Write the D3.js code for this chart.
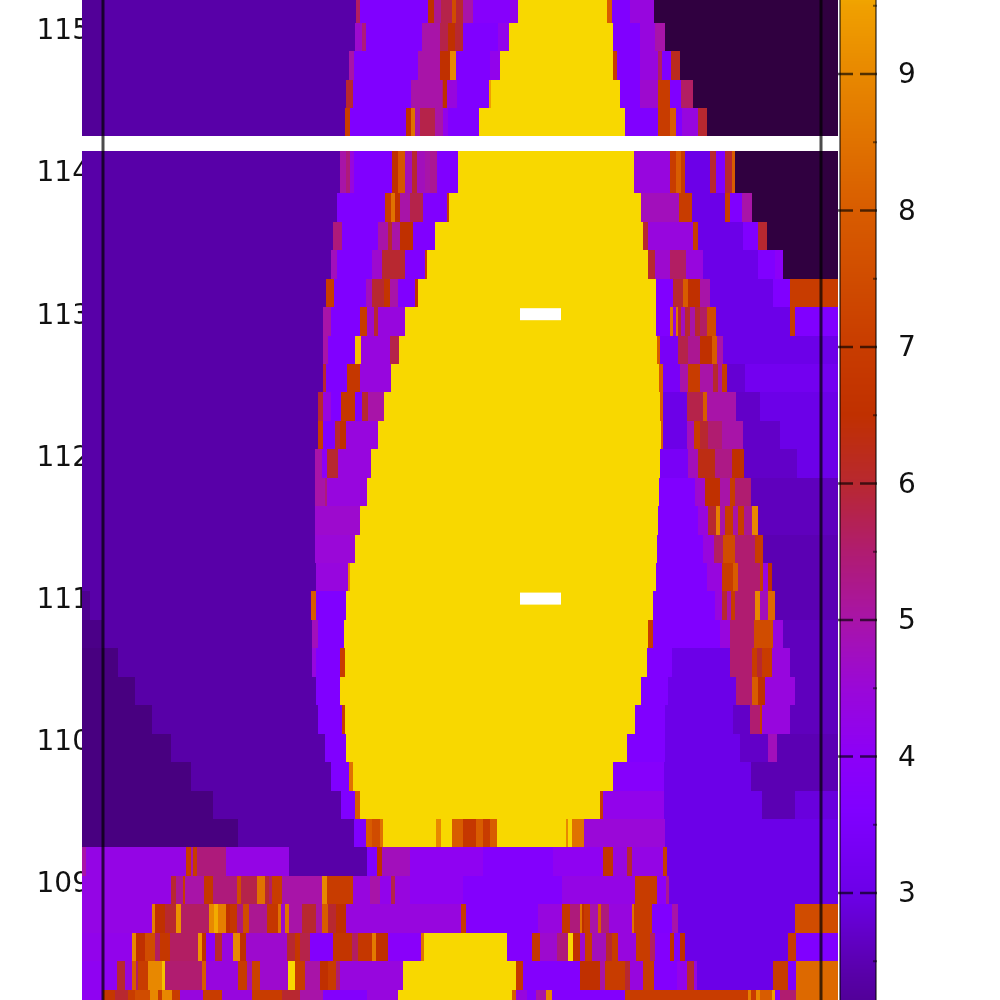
<!DOCTYPE html>
<html><head><meta charset="utf-8">
<script src="https://cdn.jsdelivr.net/npm/d3@7"></script>
<style>html,body{margin:0;padding:0;background:#fff}svg{display:block;filter:blur(0.7px)}</style>
</head><body><svg id="c" width="1000" height="1000"></svg>
<script>
// y value of each row's upper and lower edge
const rowTop=[115.25,115.05,114.85,114.65,114.45,114.15,113.85,113.65,113.45,113.25,113.05,112.85,112.65,112.45,112.25,112.05,111.85,111.65,111.45,111.25,111.05,110.85,110.65,110.45,110.25,110.05,109.85,109.65,109.45,109.25,109.05,108.85,108.65,108.45,108.25];
const rowBottom=[115.05,114.85,114.65,114.45,114.25,113.85,113.65,113.45,113.25,113.05,112.85,112.65,112.45,112.25,112.05,111.85,111.65,111.45,111.25,111.05,110.85,110.65,110.45,110.25,110.05,109.85,109.65,109.45,109.25,109.05,108.85,108.65,108.45,108.25,108.05];
// each row: channel where a run starts, value of the run, ...
const rowRuns=[
[82,2.2,103,2.4,356,5.6,360,3.6,428,6.5,434,5.2,441,5.8,452,7.5,456,6,463,5,473,3.8,510,4.2,518,10,607,8,612,3.6,630,4.4,654,1],
[82,2.2,103,2.4,355,4.6,362,5.4,366,3.6,422,5,440,5.8,448,6.5,455,6,463,3.6,498,4.2,509,10,613,3.6,640,4.4,655,5,665,1],
[82,2.2,103,2.4,349,5,354,3.6,418,5,440,6.5,450,9,456,3.6,490,4.2,500,10,613,7,617,3.6,640,4.4,658,5.6,662,3.6,671,6.2,680,1],
[82,2.2,103,2.4,346,6,353,3.6,411,5,442,5.4,443,6.5,447,4.4,457,3.6,489,9.5,491,10,620,3.6,640,4.6,658,7,670,3.6,681,5.6,693,1],
[82,2.2,103,2.4,345,7,350,3.6,406,6.5,411,8.5,415,5,420,5.8,435,5,443,4.2,448,3.6,479,10,625,3.6,658,7,670,8,676,3.6,682,4.4,698,6,707,1],
[82,2.4,340,5,346,5.4,350,4.4,354,3.6,392,6.5,398,7.8,405,4.8,412,6,417,4.8,425,5,430,5.2,437,3.6,458,10,634,4.4,670,7,676,8,681,7,685,3,710,6,716,3.6,725,6,732,8,735,1],
[82,2.4,337,3.6,385,7,391,8.5,395,6.5,400,5,410,5.8,423,3.6,447,7,449,10,641,4.8,679,7,692,3,725,7,730,3.6,742,5,752,1],
[82,2.4,333,5.4,342,3.6,378,5,388,6,392,5,400,6.5,413,3.6,435,10,643,6,648,4.4,693,7,698,3,743,3.6,758,6,767,1],
[82,2.4,331,4.8,337,3.6,372,4.6,382,6,405,3.6,425,7,427,10,648,6,655,4.6,670,5.6,686,4.4,703,3,758,3.6,775,4,783,1],
[82,2.4,326,7,334,3.6,366,4.8,372,6,384,6.7,390,5,398,3.6,415,6.5,418,10,656,3.6,673,6,683,8,688,6.5,700,5,710,3,773,3.6,790,7],
[82,2.4,323,5,331,3.6,360,7,367,4.6,374,6,378,4.4,405,10,656,3.6,670,8.5,673,4.4,676,8.5,678,6,681,4.8,685,6,690,5,695,6,700,5.6,707,7.5,716,3,790,7,795,3.6],
[82,2.4,323,5,328,3.6,355,9.8,361,4.4,390,5.8,399,10,657,8,660,3.4,678,5.8,688,5.2,700,6.5,712,8,717,5,723,3],
[82,2.4,323,6,326,3.6,347,6.8,360,4.4,391,10,659,8,663,3.4,680,5,688,7,700,5,713,6,718,5,722,7,727,2.8,745,3.2],
[82,2.4,318,6,323,4.4,331,3.6,341,6.8,355,3.6,362,6,368,5,384,10,660,8,663,3,687,5.8,703,8,707,5,736,2.7,760,3],
[82,2.4,318,7,323,3.6,335,6,340,6.5,346,4.4,378,10,661,8,663,3,687,4.8,694,7,700,6,708,5.5,722,5,743,2.7,780,3],
[82,2.4,315,5,322,4,327,6,338,4.4,371,10,660,3.4,688,4.8,698,6.3,715,5.3,732,6.5,744,2.7,797,3],
[82,2.4,315,5,325,5.4,327,4.4,367,10,659,3.6,695,4.6,705,6.5,720,5,730,7,735,5.5,751,2.6],
[82,2.4,315,4.6,360,10,658,3.6,698,4.4,708,6,716,8.8,720,5,725,7,733,5,738,7,744,5.2,752,9,758,2.6],
[82,2.4,315,4.5,355,10,657,3.6,703,4.4,714,5.6,723,7.5,735,5.5,755,7,763,2.5],
[82,2.4,316,4.4,348,9,350,10,656,3.6,707,4.4,722,7,733,8,738,5.5,760,7,763,4.4,768,6.5,772,2.5],
[82,2.1,90,2.4,311,8,316,3.6,346,10,653,3.6,715,4.4,722,6,727,5,731,7,735,5.5,755,9,760,4.8,768,8.3,775,2.5],
[82,2,102,2.4,312,4.8,318,3.6,344,10,648,7,653,3.6,720,4.4,730,5.5,754,7.5,773,4.4,783,2.6],
[82,1.9,118,2.4,312,4.4,316,3.6,340,7,345,10,647,3.6,672,3,730,5.5,752,7,757,6,762,7,772,4.4,790,2.6],
[82,1.9,135,2.4,316,3.6,340,10,641,3.6,668,3,736,5.5,752,8,758,6.5,765,4.4,795,2.6],
[82,1.9,152,2.4,318,3.6,342,7,345,10,635,3.6,665,3,733,2.7,750,5.5,760,7,762,4.4,790,2.6],
[82,1.9,171,2.4,325,3.6,346,10,627,3.6,665,3,740,2.7,768,4.8,777,2.5],
[82,1.9,191,2.4,331,3.6,349,8.5,353,10,613,3.8,664,3,751,2.5],
[82,1.9,213,2.4,341,3.6,355,8,360,10,600,7,603,4.2,664,3,762,2.5,795,2.9],
[82,1.9,238,2.4,354,3.6,366,8,372,7.5,380,8.5,383,10,436,9,441,10,452,8,463,6.8,476,8,483,7,490,8,497,10,566,9,568,10,572,8.5,584,4.5,665,3],
[82,5,86,4.3,186,7,191,5,193,7,197,5.4,226,4.3,289,2.4,367,3.6,377,6.5,382,4.8,410,4.1,483,3.7,553,4.1,603,6.7,613,4.4,627,6,632,4.3,663,7,667,3],
[82,4.3,171,6,176,5.2,183,7,185,5,204,6.8,213,5.4,237,7.5,241,5.8,257,8.5,265,6,269,5.6,272,7,282,5,322,9,327,7,353,4.4,370,5,380,4.2,391,5.8,395,4.4,410,4.1,463,3.7,562,4.3,635,7,657,4,666,5.2,669,3],
[82,4.3,152,8.8,155,6.5,165,6,176,9.2,181,5.6,209,9,214,9.6,218,8.8,226,6.5,230,6.8,237,5.4,243,7.5,249,5.2,267,6.8,278,8.5,281,4.6,285,8.5,289,5,302,6,316,5,322,8,328,6,336,6.5,346,4.4,461,7,466,3.7,538,4.4,562,6.8,570,5.4,580,8.5,582,6.5,584,7,590,5,598,8,601,5.4,609,4.4,632,8.5,634,7,652,3.6,672,5,678,3,795,7.5],
[82,4.2,132,9,136,6.5,145,7.5,155,5.6,160,6.8,170,5.6,198,9.3,202,6.5,206,4,215,6,222,4.4,233,9,240,6.5,246,4.6,287,6,295,6.8,300,5.8,310,3.7,333,6.7,352,5.6,358,6.8,372,8.7,376,6.5,388,3.9,421,8.5,424,10,507,3.7,532,6.8,540,4.6,557,5.4,568,10,573,6.5,580,4.6,585,7,592,4.8,606,6,612,7,618,4.4,636,7,650,5.6,655,3.7,670,6.5,674,3.6,680,6.5,685,3,788,7,796,3.6],
[82,4.1,117,6,125,4.4,132,8,136,5.6,138,7,148,9,162,9.8,165,5.5,202,8,206,4.4,238,7,247,5,252,7.2,260,4.6,288,10,295,7,305,5,320,6.5,328,7,336,5.5,340,4.4,403,10,516,6.8,523,3.7,580,6.5,600,5,605,7,625,6,630,4.4,643,7,654,3.7,677,4.2,687,6,694,4.4,697,3,773,7,788,3.6,796,8.3],
[82,4.1,103,6.8,115,6,128,7,135,7.5,150,9,158,7,162,9,172,7,180,4.4,203,7,222,4.4,252,7,282,6,300,5,323,3.7,367,4.4,398,10,512,8,516,4.4,527,3.7,536,5,546,9,552,3.7,625,7,748,8.8,751,7,756,9,760,8,772,9.5,775,3.8,780,5.5,796,8.3]
];
const channelExtent=[82,838];
const yTicks=[109,110,111,112,113,114,115];
const barTicks=[3,4,5,6,7,8,9];
const barMinor=[2.5,3.5,4.5,5.5,6.5,7.5,8.5,9.5];
const guideChannels=[103,821];
const gapCentres=[113,111];
const gapChannels=[520,561];
const paletteValues=[1,1.9,2.4,3,3.6,4,4.5,5,5.5,6,6.5,7,8,9,9.5,10];
const paletteColours=["#300040","#480080","#5800a8","#6c00e8","#8000ff","#8c00f8","#9a08d8","#a814a8","#b01c70","#b82830","#c03000","#c83c00","#d85c00","#e88800","#f0a000","#f8d800"];

const svg=d3.select("#c");
const root=svg.append("g");
const x=d3.scaleLinear().domain(channelExtent).range([82,838]);
const y=d3.scaleLinear().domain([109,115]).range([883,29.8]);
const yBar=d3.scaleLinear().domain([3,9]).range([893,74]);
const colour=d3.scaleLinear().domain(paletteValues).range(paletteColours).clamp(true);
const FONT="'DejaVu Sans'";

const axisL=d3.axisLeft(y).tickValues(yTicks).tickFormat(d3.format("d")).tickSize(0).tickPadding(0);
const ga=root.append("g").attr("transform","translate(90,0)").call(axisL);
ga.select(".domain").remove();
ga.selectAll("text").attr("font-family",FONT).attr("font-size",28).attr("fill","#111");

const cells=[];
rowRuns.forEach((r,i)=>{
  for(let k=0;k<r.length;k+=2){
    cells.push({x0:r[k],x1:k+2<r.length?r[k+2]:channelExtent[1],v:r[k+1],top:rowTop[i],bot:rowBottom[i]});
  }
});
root.append("g").selectAll("rect").data(cells).join("rect")
  .attr("x",d=>x(d.x0)).attr("width",d=>x(d.x1)-x(d.x0))
  .attr("y",d=>y(d.top)).attr("height",d=>y(d.bot)-y(d.top))
  .attr("fill",d=>colour(d.v)).attr("shape-rendering","crispEdges");

root.append("g").selectAll("rect").data(gapCentres).join("rect")
  .attr("x",x(gapChannels[0])).attr("width",x(gapChannels[1])-x(gapChannels[0]))
  .attr("y",d=>y(d)-6).attr("height",12).attr("fill","#fff");

root.append("g").selectAll("line").data(guideChannels).join("line")
  .attr("x1",d=>x(d)).attr("x2",d=>x(d)).attr("y1",0).attr("y2",1000)
  .attr("stroke","#000").attr("stroke-opacity",0.7).attr("stroke-width",3);

// colour bar: one strip per pixel row, coloured through the palette scale
root.append("g").selectAll("rect").data(d3.range(0,1000)).join("rect")
  .attr("x",840).attr("width",36).attr("y",d=>d).attr("height",1)
  .attr("fill",d=>colour(yBar.invert(d+0.5))).attr("shape-rendering","crispEdges");
root.append("g").selectAll("line").data([840,876]).join("line")
  .attr("x1",d=>d).attr("x2",d=>d).attr("y1",0).attr("y2",1000)
  .attr("stroke","#000").attr("stroke-opacity",0.5).attr("stroke-width",2);
root.append("g").selectAll("line").data(barTicks).join("line")
  .attr("x1",838).attr("x2",877).attr("y1",d=>yBar(d)).attr("y2",d=>yBar(d))
  .attr("stroke","#000").attr("stroke-opacity",0.65).attr("stroke-width",2.5)
  .attr("stroke-dasharray","15 7 17");
root.append("g").selectAll("line").data(barMinor).join("line")
  .attr("x1",873).attr("x2",877).attr("y1",d=>yBar(d)).attr("y2",d=>yBar(d))
  .attr("stroke","#000").attr("stroke-opacity",0.5).attr("stroke-width",2);
const axisR=d3.axisRight(yBar).tickValues(barTicks).tickFormat(d3.format("d")).tickSize(0).tickPadding(0);
const gb=root.append("g").attr("transform","translate(898,0)").call(axisR);
gb.select(".domain").remove();
gb.selectAll("text").attr("font-family",FONT).attr("font-size",28).attr("fill","#111");
</script></body></html>
